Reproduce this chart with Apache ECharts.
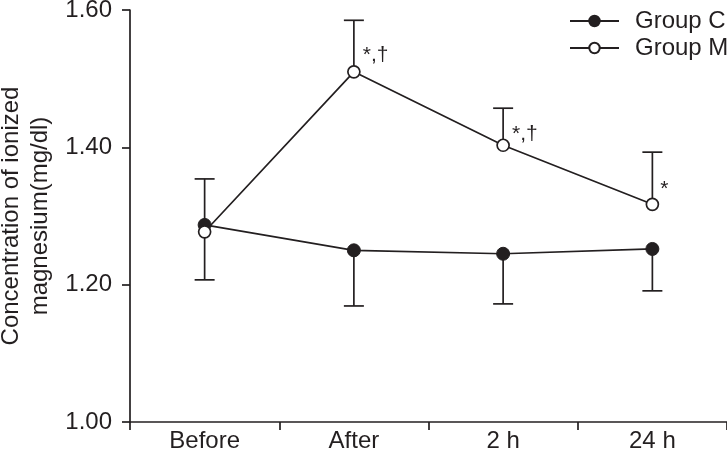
<!DOCTYPE html>
<html>
<head>
<meta charset="utf-8">
<script src="https://cdn.jsdelivr.net/npm/echarts@6/dist/echarts.min.js"></script>
<style>
  html, body { margin: 0; padding: 0; background: #fff; }
  #main { width: 727px; height: 458px; }
</style>
</head>
<body>
<div id="main"></div>
<script>
var categories = ['Before', 'After', '2 h', '24 h'];
var groupC = [1.287, 1.250, 1.245, 1.252];
var groupCSd = [0.080, 0.081, 0.073, 0.061];
var groupM = [1.277, 1.510, 1.403, 1.317];
var groupMSd = [0.077, 0.075, 0.054, 0.076];
var marksM = ['', '*,\u2020', '*,\u2020', '*'];

var ink = '#231f20';
var font = 'Liberation Sans, Arial, sans-serif';

// error bars: C hangs down, M goes up
function barData(mean, sd, dir) {
    return mean.map(function (m, i) {
        return [i, m, +(m + dir * sd[i]).toFixed(3)];
    });
}

function renderBar(params, api) {
    var p0 = api.coord([api.value(0), api.value(1)]);
    var p1 = api.coord([api.value(0), api.value(2)]);
    var half = 10;
    return {
        type: 'group',
        children: [
            { type: 'line', shape: { x1: p0[0], y1: p0[1], x2: p1[0], y2: p1[1] },
              style: { stroke: ink, lineWidth: 1.7 } },
            { type: 'line', shape: { x1: p1[0] - half, y1: p1[1], x2: p1[0] + half, y2: p1[1] },
              style: { stroke: ink, lineWidth: 1.7 } }
        ]
    };
}

var labelOffsets = [[0, 0], [-2, -17], [-2, -11], [-3, -15]];

window.addEventListener('load', function () {
    var chart = echarts.init(document.getElementById('main'));

    var option = {
        backgroundColor: '#fff',
        animation: false,
        textStyle: { fontFamily: font, color: ink },
        grid: { left: 130, right: 0, top: 10, bottom: 36, containLabel: false, outerBoundsMode: 'none' },
        legend: {
            orient: 'vertical',
            left: 564,
            top: 4,
            itemWidth: 49,
            itemHeight: 13,
            itemGap: 3,
            textStyle: { fontSize: 24, color: ink, fontFamily: font, padding: [0, 0, 0, 11] },
            data: ['Group C', 'Group M']
        },
        xAxis: {
            type: 'category',
            data: categories,
            boundaryGap: true,
            axisLine: { lineStyle: { color: ink, width: 1.7 } },
            axisTick: { show: true, length: 8, inside: false, lineStyle: { color: ink, width: 1.7 } },
            axisLabel: { fontSize: 24, color: ink, margin: 7, fontFamily: font }
        },
        yAxis: {
            type: 'value',
            min: 1.0,
            max: 1.6,
            interval: 0.2,
            name: 'Concentration of ionized\nmagnesium(mg/dl)',
            nameLocation: 'middle',
            nameGap: 70,
            nameTextStyle: { fontSize: 24, color: ink, fontFamily: font, lineHeight: 29 },
            splitLine: { show: false },
            axisLine: { show: true, lineStyle: { color: ink, width: 1.7 } },
            axisTick: { show: true, length: 8, lineStyle: { color: ink, width: 1.7 } },
            axisLabel: {
                fontSize: 24, color: ink, margin: 18, fontFamily: font,
                formatter: function (v) { return v.toFixed(2); }
            }
        },
        series: [
            {
                type: 'custom',
                renderItem: renderBar,
                data: barData(groupC, groupCSd, -1),
                encode: { x: 0, y: [1, 2] },
                z: 1,
                silent: true
            },
            {
                type: 'custom',
                renderItem: renderBar,
                data: barData(groupM, groupMSd, 1),
                encode: { x: 0, y: [1, 2] },
                z: 1,
                silent: true
            },
            {
                name: 'Group C',
                type: 'line',
                data: groupC,
                symbol: 'circle',
                symbolSize: 13,
                z: 3,
                lineStyle: { color: ink, width: 1.7 },
                itemStyle: { color: ink, borderColor: ink, borderWidth: 1 }
            },
            {
                name: 'Group M',
                type: 'line',
                data: groupM.map(function (v, i) {
                    return {
                        value: v,
                        label: {
                            show: marksM[i] !== '',
                            formatter: marksM[i],
                            position: 'right',
                            distance: 4,
                            offset: labelOffsets[i],
                            fontSize: 21,
                            color: ink,
                            fontFamily: font
                        }
                    };
                }),
                symbol: 'circle',
                symbolSize: 12,
                z: 4,
                lineStyle: { color: ink, width: 1.7 },
                itemStyle: { color: '#fff', borderColor: ink, borderWidth: 1.7 }
            }
        ]
    };

    chart.setOption(option);
});
</script>
</body>
</html>
